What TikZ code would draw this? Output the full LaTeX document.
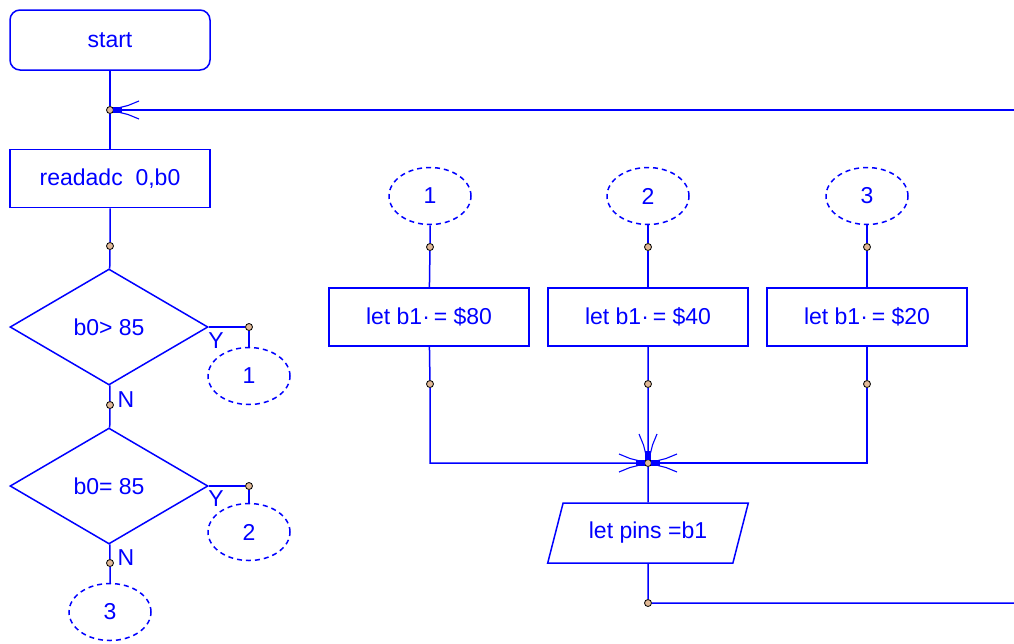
\documentclass[tikz,border=0pt]{standalone}
\usepackage{fontspec}
\setmainfont{Liberation Sans}
\usetikzlibrary{shapes.geometric}

\definecolor{dotfill}{RGB}{225,185,150}
\tikzset{
  fan/.pic={
    \fill[blue] (3,-3) rectangle (12,3);
    \draw[line width=1.1pt] (10,2.5) -- (18,4.5) -- (29,9);
    \draw[line width=1.1pt] (10,-2.5) -- (18,-4.5) -- (29,-9);
  }
}

\begin{document}
\begin{tikzpicture}[x=1pt,y=-1pt,line width=1.5pt,blue,
    every node/.style={text=blue,font=\fontsize{23}{26}\selectfont,inner sep=0pt}]
    \tikzstyle{term} = [draw,rectangle,rounded corners=10pt,minimum width=200pt,minimum height=60pt]
    \tikzstyle{cmd} = [draw,rectangle,minimum width=200pt,minimum height=58pt]
    \tikzstyle{ask} = [draw,diamond,minimum width=198pt,minimum height=116pt]
    \tikzstyle{io} = [draw,trapezium,trapezium left angle=63.4,trapezium right angle=116.6,
        trapezium stretches=true,minimum width=201pt,minimum height=60pt]
    \tikzstyle{link} = [draw,ellipse,dash pattern=on 5pt off 4pt,minimum width=82pt,minimum height=57pt]
    \tikzstyle{jdot} = [circle,draw=black,line width=0.8pt,fill=dotfill,minimum size=7pt]
    \useasboundingbox (0,0) rectangle (1014,643);

    % main column
    \node[term] (start) at (110,40) {start};
    \node[cmd] (rdadc) at (110,178.5) {readadc\ \ 0,b0};
    \node[ask] (dec1) at (109,327) {b0> 85};
    \node[ask] (dec2) at (109,486) {b0= 85};
    \node[link] (go1) at (249,376) {1};
    \node[link] (go2) at (249,532) {2};
    \node[link] (go3) at (110,612) {3};
    \node (ylab1) at (216,341) {Y};
    \node (ylab2) at (216,499) {Y};
    \node (nlab1) at (126,400) {N};
    \node (nlab2) at (126,558) {N};

    % right part
    \node[link] (in1) at (430,196) {1};
    \node[link] (in2) at (648,196) {2};
    \node[link] (in3) at (867,196) {3};
    \node[cmd] (set1) at (429,317) {let b1·\,= \$80};
    \node[cmd] (set2) at (648,317) {let b1·\,= \$40};
    \node[cmd] (set3) at (867,317) {let b1·\,= \$20};
    \node[io] (pins) at (648,533) {let pins =b1};

    % junctions
    \node[jdot] (j0) at (110,110) {};
    \node[jdot] (d0) at (110,246) {};
    \node[jdot] (y1) at (249,327) {};
    \node[jdot] (n1) at (110,405) {};
    \node[jdot] (y2) at (249,486) {};
    \node[jdot] (n2) at (110,563) {};
    \node[jdot] (u1) at (430,247) {};
    \node[jdot] (u2) at (648,247) {};
    \node[jdot] (u3) at (867,247) {};
    \node[jdot] (v1) at (430,384) {};
    \node[jdot] (v2) at (648,384) {};
    \node[jdot] (v3) at (867,384) {};
    \node[jdot] (mrg) at (648,463) {};
    \node[jdot] (back) at (648,603) {};
    \coordinate (h1) at (430,463);
    \coordinate (h3) at (867,463);
    \coordinate (eT) at (1016,110);
    \coordinate (eB) at (1016,603);

    \draw (start) -- (j0) -- (rdadc);
    \draw (rdadc) -- (d0) -- (dec1);
    \draw (dec1.east) -- (y1) -- (go1);
    \draw (dec1) -- (n1) -- (dec2);
    \draw (dec2.east) -- (y2) -- (go2);
    \draw (dec2) -- (n2) -- (go3);
    \draw (eT) -- (j0);

    \draw (in1) -- (u1) -- (set1);
    \draw (in2) -- (u2) -- (set2);
    \draw (in3) -- (u3) -- (set3);
    \draw (set1) -- (v1) -- (h1) -- (mrg);
    \draw (set3) -- (v3) -- (h3) -- (mrg);
    \draw (set2) -- (v2) -- (mrg) -- (pins) -- (back) -- (eB);

    \pic at (j0) {fan};
    \pic[rotate=180] at (mrg) {fan};
    \pic at (mrg) {fan};
    \pic[rotate=90] at (mrg) {fan};
\end{tikzpicture}
\end{document}
